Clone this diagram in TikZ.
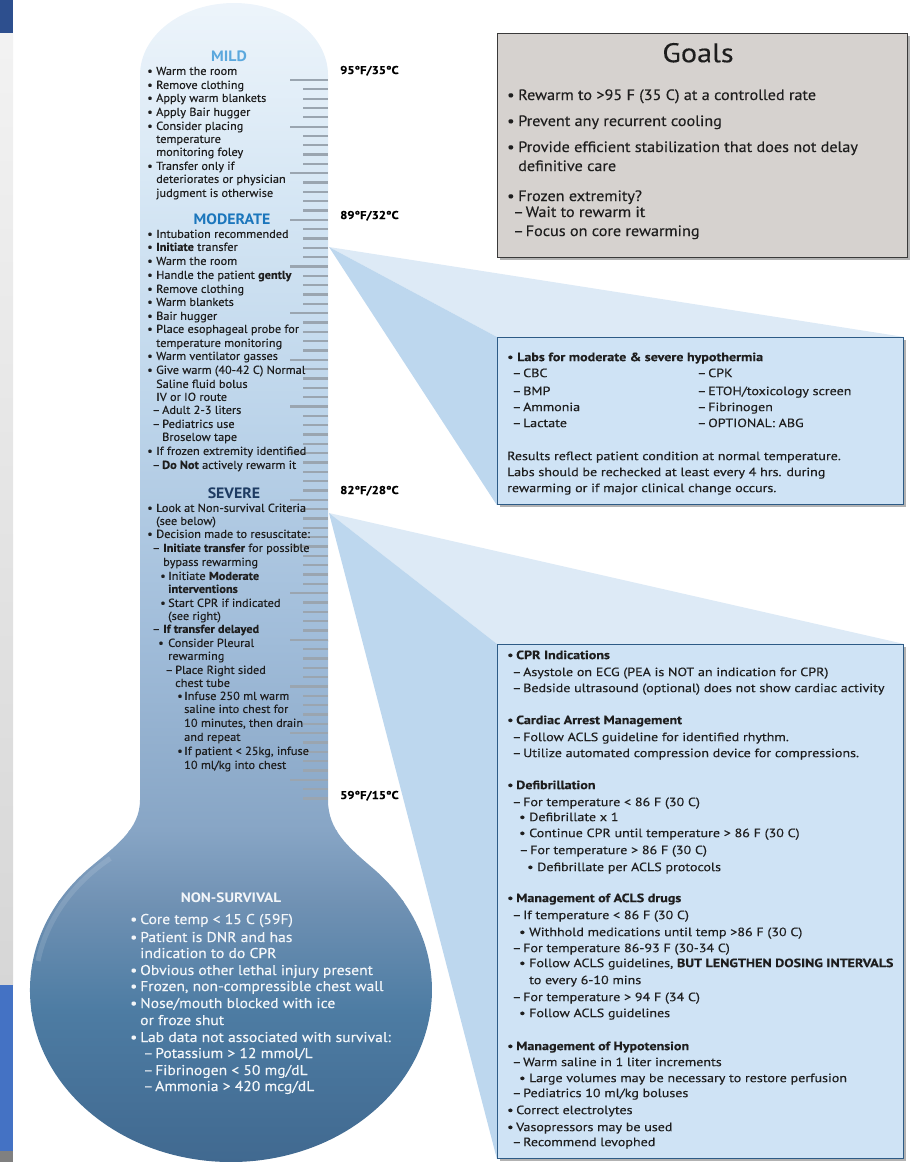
\documentclass[tikz,border=0pt]{standalone}
\usepackage{fontspec}
\setmainfont{PT Sans}
\usetikzlibrary{backgrounds,shadows}

\definecolor{ink}{HTML}{1E1E1E}
\definecolor{mildc}{HTML}{5BA8DD}
\definecolor{modc}{HTML}{1B76BC}
\definecolor{sevc}{HTML}{1E3B62}
\definecolor{nsc}{HTML}{F3F6F9}
\definecolor{goalfill}{HTML}{D6D2CF}
\definecolor{goalline}{HTML}{3A3A3A}
\definecolor{boxfill}{HTML}{CFE3F5}
\definecolor{boxline}{HTML}{2D5B86}
\definecolor{wlight}{HTML}{DDEAF6}
\definecolor{wdark}{HTML}{BDD7EE}
\definecolor{tickc}{HTML}{9AA5B0}
\definecolor{sA}{HTML}{EEF5FB}
\definecolor{sB}{HTML}{D5E6F4}
\definecolor{sC}{HTML}{BCD4EA}
\definecolor{sD}{HTML}{A0BCD9}
\definecolor{sE}{HTML}{87A5C5}
\definecolor{sF}{HTML}{7192B4}
\definecolor{sG}{HTML}{4D7CA3}
\definecolor{sH}{HTML}{40688F}
\definecolor{stripblue}{HTML}{4472C4}
\definecolor{stripdark}{HTML}{2D4F8E}

\newcommand\tbul[1]{\makebox[#1][l]{•}}
\newcommand\tdash[1]{\makebox[#1][l]{–}}
% font helper: size, stretch, emboldening
\newcommand\dinlike[3]{\fontsize{#1}{#1}\selectfont\addfontfeatures{FakeStretch=#2,FakeBold=#3}}

\begin{document}
\begin{tikzpicture}[x=1pt,y=-1pt,
  stemtxt/.style={anchor=base west, inner sep=0pt, text=ink, font=\dinlike{11.6}{1.06}{0.35}, yshift=-3.9pt},
  stemhead/.style={anchor=base, inner sep=0pt, font=\bfseries\dinlike{15}{1.06}{0}, yshift=-5.3pt},
  temptag/.style={anchor=base west, inner sep=0pt, text=black, font=\bfseries\dinlike{11.3}{1.12}{0.3}, yshift=-4pt},
  nstxt/.style={anchor=base west, inner sep=0pt, text=nsc, font=\dinlike{14.2}{1.1}{0.3}, yshift=-5pt},
  goaltxt/.style={anchor=base west, inner sep=0pt, text=ink, font=\dinlike{15}{1.08}{0.2}, yshift=-5pt},
  boxtxt/.style={anchor=base west, inner sep=0pt, text=ink, font=\dinlike{12}{1.17}{0.3}, yshift=-4.1pt},
  panel/.style={anchor=north west, inner sep=0pt, line width=1.3pt,
    drop shadow={shadow xshift=2.5pt, shadow yshift=-2.5pt, opacity=0.3, fill=black}},
  goalbox/.style={panel, draw=goalline, fill=goalfill},
  bluebox/.style={panel, draw=boxline, fill=boxfill},
  wedgelight/.style={fill=wlight},
  wedgedark/.style={fill=wdark},
  scaletick/.style={draw=tickc, line width=2.3pt}
]
\useasboundingbox (0,0) rectangle (912,1162);

% ---------- panels on the right ----------
\node[goalbox, minimum width=410pt, minimum height=224pt] (goals) at (497,33) {};
\node[bluebox, minimum width=406pt, minimum height=167pt] (labs) at (497,337) {};
\node[bluebox, minimum width=406pt, minimum height=514pt] (cpr) at (497,644) {};

\coordinate (apexA) at (329,247);
\coordinate (apexB) at (329,513);

% ---------- background: side strip, thermometer, wedges ----------
\begin{scope}[on background layer]
  \fill[stripdark] (0,0) rectangle (13,33);
  \shade[top color=white!95!black, bottom color=white!84!black] (0,33) rectangle (13,985);
  \fill[stripblue] (0,985) rectangle (13,1151);
  \fill[gray] (0,1151) rectangle (13,1162);

  \begin{scope}
    \clip (140,800) -- (140,75)
      arc[start angle=180, end angle=360, x radius=94, y radius=72]
      -- (328,800) .. controls (328,830) and (348,847) .. (373.1,868.4)
      arc[start angle=-45, end angle=225, x radius=201, y radius=172]
      .. controls (114,847) and (140,830) .. (140,800) -- cycle;
    \shade[top color=sA, bottom color=sB] (0,-5) rectangle (450,201);
    \shade[top color=sB, bottom color=sC] (0,200) rectangle (450,421);
    \shade[top color=sC, bottom color=sD] (0,420) rectangle (450,641);
    \shade[top color=sD, bottom color=sE] (0,640) rectangle (450,831);
    \shade[top color=sE, bottom color=sF] (0,830) rectangle (450,901);
    \shade[top color=sF, bottom color=sG] (0,900) rectangle (450,1011);
    \shade[top color=sG, bottom color=sH] (0,1010) rectangle (450,1170);
    % soft rim light on the bulb
    \draw[white, opacity=0.12, line width=5pt]
      (231,990) ++(190:196 and 167) arc[start angle=190, end angle=232, x radius=196, y radius=167];
  \end{scope}

  % scale ticks along the stem
  \foreach \k in {0,...,77} {
    \pgfmathsetmacro\tky{80+9.33*\k}
    \pgfmathsetmacro\tkx{mod(\k,5)==0 ? 290 : 303}
    \draw[scaletick] (\tkx,\tky) -- (328,\tky);
  }

  \fill[wedgelight] (apexA) -- (labs.north east) -- (labs.north west) -- cycle;
  \fill[wedgedark] (apexA) -- (labs.north west) -- (labs.south west) -- cycle;
  \fill[wedgelight] (apexB) -- (cpr.north east) -- (cpr.north west) -- cycle;
  \fill[wedgedark] (apexB) -- (cpr.north west) -- (cpr.south west) -- cycle;
\end{scope}

% ---------- temperature tags ----------
\node[temptag] (t95) at (340,70) {95°F/35°C};
\node[temptag] (t89) at (340,215) {89°F/32°C};
\node[temptag] (t82) at (340,490) {82°F/28°C};
\node[temptag] (t59) at (340,795) {59°F/15°C};

% ---------- stem headings ----------
\node[stemhead, text=mildc] (hmild) at (229,56) {MILD};
\node[stemhead, text=modc] (hmod) at (232,219) {MODERATE};
\node[stemhead, text=sevc] (hsev) at (234,493) {SEVERE};

% ---------- stem text ----------
\foreach \yy/\xx/\tx [count=\i] in {
  71/147/{\tbul{9pt}Warm the room},
  85/147/{\tbul{9pt}Remove clothing},
  98/147/{\tbul{9pt}Apply warm blankets},
  112/147/{\tbul{9pt}Apply Bair hugger},
  126/147/{\tbul{9pt}Consider placing},
  139/156/{temperature},
  152/156/{monitoring foley},
  166/147/{\tbul{9pt}Transfer only if},
  179/156/{deteriorates or physician},
  193/156/{judgment is otherwise},
  234/147/{\tbul{9pt}Intubation recommended},
  247/147/{\tbul{9pt}\textbf{Initiate} transfer},
  261/147/{\tbul{9pt}Warm the room},
  275/147/{\tbul{9pt}Handle the patient \textbf{gently}},
  289/147/{\tbul{9pt}Remove clothing},
  302/147/{\tbul{9pt}Warm blankets},
  316/147/{\tbul{9pt}Bair hugger},
  329/147/{\tbul{9pt}Place esophageal probe for},
  343/156/{temperature monitoring},
  356/147/{\tbul{9pt}Warm ventilator gasses},
  370/147/{\tbul{9pt}Give warm (40-42 C) Normal},
  384/156/{Saline fluid bolus},
  397/156/{IV or IO route},
  410/152/{\tdash{10pt}Adult 2-3 liters},
  424/152/{\tdash{10pt}Pediatrics use},
  437/162/{Broselow tape},
  451/147/{\tbul{9pt}If frozen extremity identified},
  465/152/{\tdash{10pt}\textbf{Do Not} actively rewarm it},
  508/147/{\tbul{9pt}Look at Non-survival Criteria},
  521/156/{(see below)},
  534/147/{\tbul{9pt}Decision made to resuscitate:},
  548/152/{\tdash{11pt}\textbf{Initiate transfer} for possible},
  562/163/{bypass rewarming},
  576/160/{\tbul{8pt}Initiate \textbf{Moderate}},
  589/168/{\textbf{interventions}},
  603/160/{\tbul{8pt}Start CPR if indicated},
  616/168/{(see right)},
  629/152/{\tdash{11pt}\textbf{If transfer delayed}},
  643/158/{\tbul{10pt}Consider Pleural},
  656/168/{rewarming},
  670/165/{\tdash{10pt}Place Right sided},
  683/175/{chest tube},
  696/177/{\tbul{7pt}Infuse 250 ml warm},
  709/184/{saline into chest for},
  723/184/{10 minutes, then drain},
  737/184/{and repeat},
  751/177/{\tbul{7pt}If patient < 25kg, infuse},
  765/184/{10 ml/kg into chest}}
  \node[stemtxt] (stem\i) at (\xx,\yy) {\tx};

% ---------- non-survival criteria in the bulb ----------
\node[stemhead, text=nsc, font=\bfseries\dinlike{13.6}{1.12}{0}, yshift=0.4pt] (hns) at (231,898) {NON-SURVIVAL};
\foreach \yy/\xx/\tx [count=\i] in {
  919/130/{\tbul{10pt}Core temp < 15 C (59F)},
  937/130/{\tbul{10pt}Patient is DNR and has},
  953/140/{indication to do CPR},
  970/130/{\tbul{10pt}Obvious other lethal injury present},
  986/130/{\tbul{10pt}Frozen, non-compressible chest wall},
  1003/130/{\tbul{10pt}Nose/mouth blocked with ice},
  1020/140/{or froze shut},
  1037/130/{\tbul{10pt}Lab data not associated with survival:},
  1053/143/{\tdash{12pt}Potassium > 12 mmol/L},
  1070/143/{\tdash{12pt}Fibrinogen < 50 mg/dL},
  1086/143/{\tdash{12pt}Ammonia > 420 mcg/dL}}
  \node[nstxt] (ns\i) at (\xx,\yy) {\tx};

% ---------- goals ----------
\node[anchor=base, inner sep=0pt, text=ink, font=\dinlike{27}{1.12}{0.2}, yshift=-9.2pt] (goaltitle) at (698,53) {Goals};
\foreach \yy/\xx/\tx [count=\i] in {
  95/507/{\tbul{11pt}Rewarm to >95 F (35 C) at a controlled rate},
  121/507/{\tbul{11pt}Prevent any recurrent cooling},
  147/507/{\tbul{11pt}Provide efficient stabilization that does not delay},
  166/518/{definitive care},
  196/507/{\tbul{11pt}Frozen extremity?},
  212/513/{\tdash{12.5pt}Wait to rewarm it},
  231/513/{\tdash{12.5pt}Focus on core rewarming}}
  \node[goaltxt] (goal\i) at (\xx,\yy) {\tx};

% ---------- labs ----------
\foreach \yy/\xx/\tx [count=\i] in {
  357/507/{\tbul{10pt}\textbf{Labs for moderate \& severe hypothermia}},
  373/512/{\tdash{11pt}CBC},
  391/512/{\tdash{11pt}BMP},
  407/512/{\tdash{11pt}Ammonia},
  423/512/{\tdash{11pt}Lactate},
  373/697/{\tdash{11pt}CPK},
  391/697/{\tdash{11pt}ETOH/toxicology screen},
  407/697/{\tdash{11pt}Fibrinogen},
  423/697/{\tdash{11pt}OPTIONAL: ABG},
  456/507/{Results reflect patient condition at normal temperature.},
  472/507/{Labs should be rechecked at least every 4 hrs. during},
  488/507/{rewarming or if major clinical change occurs.}}
  \node[boxtxt] (lab\i) at (\xx,\yy) {\tx};

% ---------- CPR and arrest management ----------
\foreach \yy/\xx/\tx [count=\i] in {
  655/507/{\tbul{9pt}\textbf{CPR Indications}},
  672/512/{\tdash{11pt}Asystole on ECG (PEA is NOT an indication for CPR)},
  688/512/{\tdash{11pt}Bedside ultrasound (optional) does not show cardiac activity},
  720/507/{\tbul{9pt}\textbf{Cardiac Arrest Management}},
  737/512/{\tdash{11pt}Follow ACLS guideline for identified rhythm.},
  753/512/{\tdash{11pt}Utilize automated compression device for compressions.},
  785/507/{\tbul{9pt}\textbf{Defibrillation}},
  802/512/{\tdash{11pt}For temperature < 86 F (30 C)},
  817/519/{\tbul{10pt}Defibrillate x 1},
  833/519/{\tbul{10pt}Continue CPR until temperature > 86 F (30 C)},
  850/519/{\tdash{11pt}For temperature > 86 F (30 C)},
  867/527/{\tbul{10pt}Defibrillate per ACLS protocols},
  898/507/{\tbul{9pt}\textbf{Management of ACLS drugs}},
  915/512/{\tdash{11pt}If temperature < 86 F (30 C)},
  932/519/{\tbul{10pt}Withhold medications until temp >86 F (30 C)},
  948/512/{\tdash{11pt}For temperature 86-93 F (30-34 C)},
  963/519/{\tbul{10pt}Follow ACLS guidelines, \textbf{BUT LENGTHEN DOSING INTERVALS}},
  980/529/{to every 6-10 mins},
  997/512/{\tdash{11pt}For temperature > 94 F (34 C)},
  1013/519/{\tbul{10pt}Follow ACLS guidelines},
  1046/507/{\tbul{9pt}\textbf{Management of Hypotension}},
  1062/512/{\tdash{11pt}Warm saline in 1 liter increments},
  1078/519/{\tbul{10pt}Large volumes may be necessary to restore perfusion},
  1093/512/{\tdash{11pt}Pediatrics 10 ml/kg boluses},
  1110/507/{\tbul{9pt}Correct electrolytes},
  1127/507/{\tbul{9pt}Vasopressors may be used},
  1142/512/{\tdash{11pt}Recommend levophed}}
  \node[boxtxt] (cpr\i) at (\xx,\yy) {\tx};
\end{tikzpicture}
\end{document}
